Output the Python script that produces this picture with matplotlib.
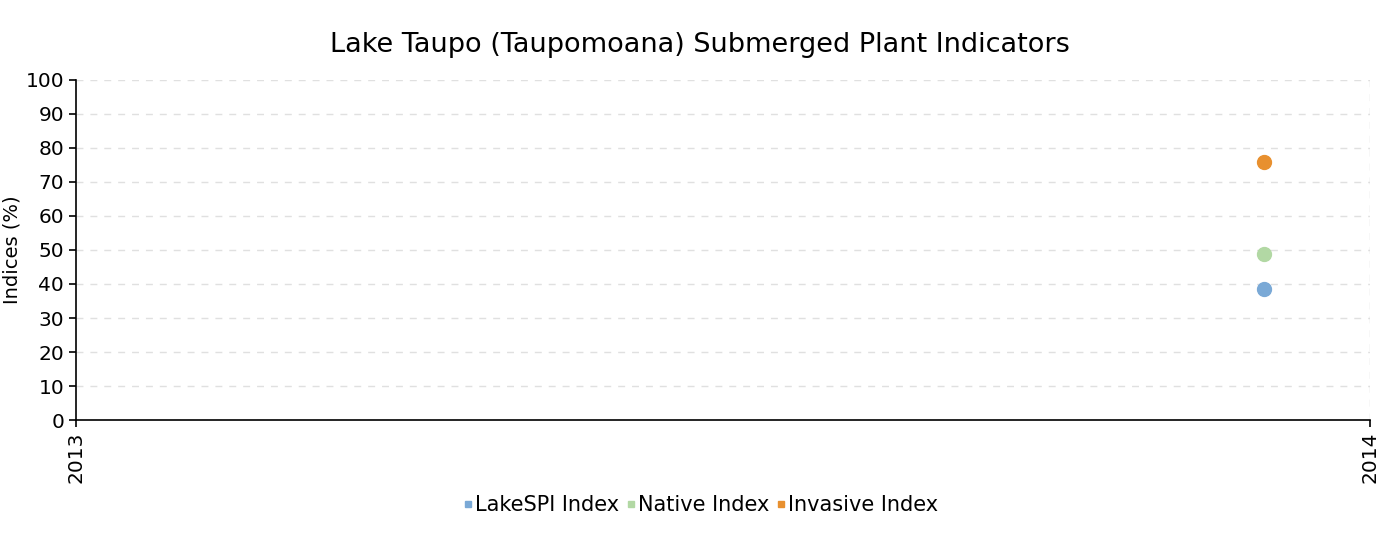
import matplotlib
matplotlib.use("Agg")
import matplotlib.pyplot as plt
import matplotlib.dates as mdates
from datetime import datetime

series = ["LakeSPI Index", "Native Index", "Invasive Index"]
colors = ["#7aa9d6", "#b2d8a4", "#e8902f"]
survey_dates = [datetime(2013, 12, 2)]
lakespi = [38.5]
native = [48.7]
invasive = [76.0]
values = [lakespi, native, invasive]

plt.rcParams["font.family"] = ["DejaVu Sans"]

fig = plt.figure(figsize=(14, 5.4), dpi=100)
ax = fig.add_axes([0.0543, 0.2222, 0.9243, 0.6297])

for name, col, vals in zip(series, colors, values):
    ax.plot(survey_dates, vals, "o", color=col, markersize=10, label=name,
            linestyle="none", zorder=3)

ax.set_xlim(datetime(2013, 1, 1), datetime(2014, 1, 1))
ax.set_ylim(0, 100)
ax.set_yticks(range(0, 101, 10))
ax.set_xticks([datetime(2013, 1, 1), datetime(2014, 1, 1)])
ax.xaxis.set_major_formatter(mdates.DateFormatter("%Y"))
ax.tick_params(axis="x", labelrotation=90, labelsize=14.5, length=5, width=1.2)
ax.tick_params(axis="y", labelsize=14.5, length=5, width=1.2)

ax.grid(axis="y", linestyle=(0, (5, 5)), color="#e0e0e0", linewidth=1)
ax.axvline(datetime(2014, 1, 1), linestyle=(0, (5, 5)), color="#d8d8d8", linewidth=1)
for s in ["top", "right"]:
    ax.spines[s].set_visible(False)
for s in ["left", "bottom"]:
    ax.spines[s].set_linewidth(1.2)
ax.set_axisbelow(True)

ax.set_ylabel("Indices (%)", fontsize=14, labelpad=3)
fig.suptitle("Lake Taupo (Taupomoana) Submerged Plant Indicators", fontsize=19.5, y=0.94)

handles = [plt.Line2D([], [], marker="s", color=c, linestyle="none", markersize=4) for c in colors]
fig.legend(handles, series, loc="center", bbox_to_anchor=(0.5, 0.065), ncol=3,
           frameon=False, fontsize=15, handletextpad=0.0, columnspacing=0.3,
           handlelength=0.6)

fig.savefig("out.png", dpi=100)
